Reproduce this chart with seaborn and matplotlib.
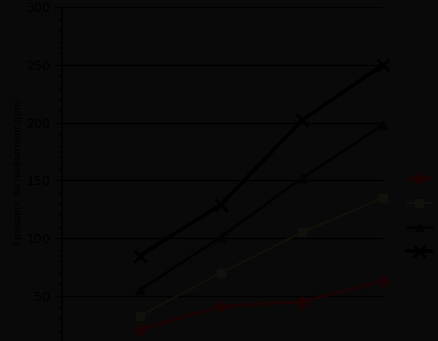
import numpy as np
import pandas as pd
import matplotlib
matplotlib.use("Agg")
import matplotlib.pyplot as plt
from matplotlib.ticker import MultipleLocator, FixedLocator
from matplotlib.lines import Line2D
import seaborn as sns

# Coating thickness per sample for four treatment series
positions = [1, 2, 3, 4]
serie_losange = [21, 41, 45, 63]
serie_carre = [33, 70, 105, 135]
serie_triangle = [55, 101, 152, 198]
serie_etoile = [85, 129, 202, 250]
noms = ["Série 1", "Série 2", "Série 3", "Série 4"]
graduations = [50, 100, 150, 200, 250, 300]

df = pd.DataFrame({
    "x": positions * 4,
    "y": serie_losange + serie_carre + serie_triangle + serie_etoile,
    "serie": sum([[n] * 4 for n in noms], []),
})

fond = "#090909"
couleurs = {noms[0]: "#1c0303", noms[1]: "#11100a", noms[2]: "#020202", noms[3]: "#000000"}
marqueurs = {noms[0]: "D", noms[1]: "s", noms[2]: "^", noms[3]: "x"}
tailles = {noms[0]: 6, noms[1]: 6, noms[2]: 6, noms[3]: 8}
epaisseurs = {noms[0]: 2.0, noms[1]: 1.5, noms[2]: 2.0, noms[3]: 2.6}

sns.set_style("white")
plt.rcParams["font.family"] = ["DejaVu Sans"]

fig = plt.figure(figsize=(4.38, 3.41), dpi=100, facecolor=fond)
# plot area: left edge x=62px, right edge x=383px, 300 at y=7px, 0 below the bottom edge
W, H = 438, 341
top_px, px_per_unit = 7, 1.156
h_px = 300 * px_per_unit
ax = fig.add_axes([62 / W, (H - top_px - h_px) / H, (383 - 62) / W, h_px / H])
ax.set_facecolor(fond)

poignees = []
for nom in noms:
    sub = df[df["serie"] == nom]
    sns.lineplot(data=sub, x="x", y="y", ax=ax, color=couleurs[nom],
                 marker=marqueurs[nom], markersize=tailles[nom],
                 markeredgewidth=2 if nom == noms[3] else 1,
                 markeredgecolor=couleurs[nom], linewidth=epaisseurs[nom],
                 legend=False, clip_on=False, zorder=3)
    poignees.append(Line2D([], [], color=couleurs[nom], marker=marqueurs[nom],
                           markersize=tailles[nom], linewidth=epaisseurs[nom],
                           markeredgewidth=2 if nom == noms[3] else 1))

ax.set_xlim(0.04, 4.0)
ax.set_ylim(0, 300)
ax.yaxis.set_major_locator(FixedLocator(graduations))
ax.yaxis.set_minor_locator(MultipleLocator(10))
ax.set_xticks([])
ax.grid(axis="y", which="major", color="#000000", linewidth=1.0)
ax.tick_params(axis="y", which="major", direction="out", length=5, width=1,
               color="#000000", labelsize=9, labelcolor="#000000", left=True)
ax.tick_params(axis="y", which="minor", direction="out", length=3, width=1,
               color="#000000", left=True)
for s in ["top", "right", "bottom"]:
    ax.spines[s].set_visible(False)
ax.spines["left"].set_color("#000000")
ax.spines["left"].set_linewidth(1.2)
ax.set_xlabel("")
ax.set_ylabel("Epaisseur du revêtement (µm)", fontsize=6.8, color="#000000")
ax.yaxis.set_label_coords(-0.12, 0.524)

leg = ax.legend(poignees, [""] * 4, loc="upper left",
                bbox_to_anchor=(1.059, 0.537),
                frameon=False, fontsize=9, handlelength=2.0, labelspacing=0.91,
                borderaxespad=0, handletextpad=0.0)

fig.savefig("out.png", dpi=100, facecolor=fond)
